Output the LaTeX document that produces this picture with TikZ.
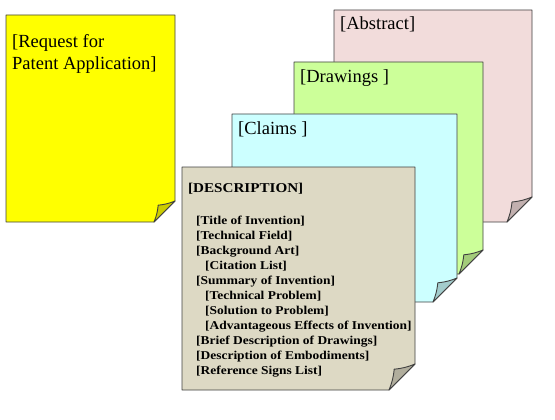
\documentclass[tikz,border=0pt]{standalone}
\usepackage{fontspec}
\setmainfont{Liberation Serif}
\newfontfamily\descfont[FakeStretch=1.12]{Liberation Serif}
\usetikzlibrary{positioning}
\definecolor{reqfill}{HTML}{FFFF00}
\definecolor{reqfold}{HTML}{CCCC00}
\definecolor{absfill}{HTML}{F2DCDB}
\definecolor{absfold}{HTML}{C2B0AF}
\definecolor{drwfill}{HTML}{CCFF99}
\definecolor{drwfold}{HTML}{A3CC7A}
\definecolor{clmfill}{HTML}{CCFFFF}
\definecolor{clmfold}{HTML}{A3CCCC}
\definecolor{dscfill}{HTML}{DDD9C4}
\definecolor{dscfold}{HTML}{B1AE9D}
\definecolor{edge}{HTML}{404040}
% sheet with folded corner: left, top, right, bottom, fold size, fill, fold fill
\newcommand{\sheet}[7]{%
  \draw[sheetline,fill=#6] (#1,#2) -- (#3,#2) -- (#3,#4-#5) -- (#3-#5,#4)
    -- (#1,#4) -- cycle;
  \draw[sheetline,fill=#7] (#3,#4-#5) to[bend left=8] (#3-0.8*#5,#4-0.8*#5)
    to[bend left=8] (#3-#5,#4) -- cycle;}

\begin{document}
\begin{tikzpicture}[x=1pt,y=-1pt,
  sheetline/.style={draw=edge,line width=0.9pt,line join=round},
  title/.style={anchor=base west,inner sep=0pt,font=\fontsize{18.5}{22.3}\selectfont,
                align=left},
  listhead/.style={anchor=base west,inner sep=0pt,
                   font=\descfont\bfseries\fontsize{13.5}{15}\selectfont},
  listitem/.style={anchor=base west,inner sep=0pt,
                   font=\descfont\bfseries\fontsize{12}{15}\selectfont}]
 \useasboundingbox (0,0) rectangle (555,420);
 % the four stacked sheets, back to front
 \sheet{334}{10}{532}{222}{25}{absfill}{absfold}
 \node[title] (abstract) at (340,30) {[Abstract]};
 \sheet{294}{62}{483}{274}{24}{drwfill}{drwfold}
 \node[title] (drawings) at (300,83) {[Drawings ]};
 \sheet{232}{114}{457}{302}{24}{clmfill}{clmfold}
 \node[title] (claims) at (238,135) {[Claims ]};
 \sheet{182}{167}{415}{390}{26}{dscfill}{dscfold}
 \node[listhead] (description) at (188,193) {[DESCRIPTION]};
 \foreach \lbl/\dx [count=\i from 0] in {Title of Invention/0,
     Technical Field/0, Background Art/0, Citation List/1,
     Summary of Invention/0, Technical Problem/1, Solution to Problem/1,
     Advantageous Effects of Invention/1, Brief Description of Drawings/0,
     Description of Embodiments/0, Reference Signs List/0}
   \node[listitem] (part\i) at ({196+9*\dx},{224+15*\i}) {[\lbl]};
 % request sheet on its own
 \sheet{6}{15}{175}{222}{21}{reqfill}{reqfold}
 \node[title] (request) at (12,69.5) {[Request for\\Patent Application]};
\end{tikzpicture}
\end{document}
